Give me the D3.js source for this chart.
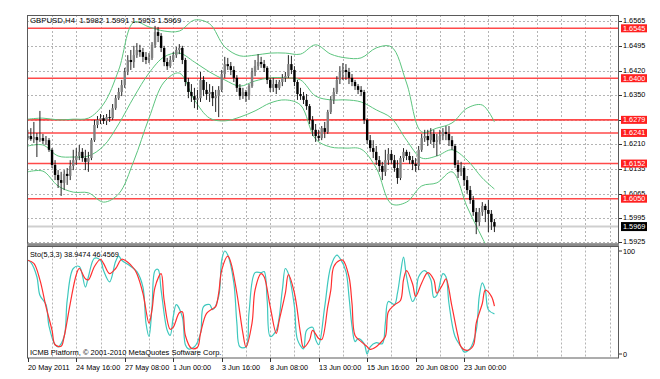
<!DOCTYPE html>
<html><head><meta charset="utf-8">
<script src="https://cdn.jsdelivr.net/npm/d3@7/dist/d3.min.js"></script>
<style>
html,body{margin:0;padding:0;background:#fff;}
svg{display:block;}
text{font-family:"Liberation Sans",Arial,sans-serif;}
</style>
</head><body>
<svg id="chart" width="660" height="379"></svg>
<script>
// ---------------- DATA ----------------
const titleText = "GBPUSD,H4  1.5982 1.5991 1.5953 1.5969";
const stochTitle = "Sto(5,3,3) 38.9474 46.4569";
const copyright = "ICMB Platform, \u00A9 2001-2010 MetaQuotes Software Corp.";

const timeLabels = ["20 May 2011","24 May 16:00","27 May 08:00","1 Jun 00:00","3 Jun 16:00","8 Jun 08:00","13 Jun 00:00","15 Jun 16:00","20 Jun 08:00","23 Jun 00:00"];
const barsPerLabel = 16;
const barsPerGrid = 8;
const visibleBars = 195;

const priceTicks = [1.6565,1.6495,1.6420,1.6350,1.6280,1.6210,1.6135,1.6065,1.5995,1.5925];
const levels = [1.6545,1.6400,1.6279,1.6241,1.6152,1.6050];
const lastPrice = 1.5969;

const open = [1.6226,1.6232,1.6223,1.6229,1.6220,1.6226,1.6218,1.6220,1.6192,1.6148,1.6119,1.6104,1.6096,1.6122,1.6116,1.6145,1.6162,1.6174,1.6186,1.6168,1.6157,1.6168,1.6220,1.6264,1.6279,1.6284,1.6276,1.6287,1.6284,1.6313,1.6342,1.6360,1.6380,1.6418,1.6453,1.6447,1.6467,1.6482,1.6476,1.6462,1.6453,1.6459,1.6497,1.6534,1.6523,1.6488,1.6447,1.6435,1.6453,1.6467,1.6482,1.6488,1.6453,1.6389,1.6360,1.6348,1.6337,1.6342,1.6395,1.6366,1.6354,1.6360,1.6342,1.6348,1.6366,1.6412,1.6441,1.6435,1.6424,1.6401,1.6372,1.6348,1.6360,1.6348,1.6377,1.6418,1.6435,1.6447,1.6441,1.6430,1.6395,1.6372,1.6383,1.6372,1.6389,1.6401,1.6406,1.6441,1.6424,1.6389,1.6354,1.6348,1.6337,1.6319,1.6279,1.6250,1.6232,1.6226,1.6255,1.6244,1.6302,1.6337,1.6360,1.6395,1.6418,1.6424,1.6418,1.6401,1.6389,1.6377,1.6366,1.6360,1.6279,1.6220,1.6197,1.6186,1.6162,1.6145,1.6128,1.6162,1.6180,1.6162,1.6139,1.6110,1.6168,1.6186,1.6174,1.6162,1.6151,1.6145,1.6192,1.6226,1.6232,1.6220,1.6238,1.6215,1.6220,1.6232,1.6244,1.6238,1.6220,1.6203,1.6148,1.6128,1.6139,1.6104,1.6075,1.6046,1.6011,1.5982,1.6011,1.6029,1.6017,1.6006,1.5982];
const high = [1.6250,1.6255,1.6273,1.6241,1.6305,1.6238,1.6232,1.6226,1.6197,1.6162,1.6133,1.6128,1.6133,1.6139,1.6162,1.6192,1.6197,1.6206,1.6197,1.6192,1.6186,1.6226,1.6279,1.6290,1.6296,1.6293,1.6296,1.6308,1.6325,1.6351,1.6372,1.6395,1.6430,1.6467,1.6482,1.6494,1.6502,1.6497,1.6488,1.6476,1.6473,1.6505,1.6552,1.6549,1.6531,1.6494,1.6459,1.6465,1.6476,1.6491,1.6499,1.6494,1.6459,1.6401,1.6383,1.6372,1.6366,1.6418,1.6406,1.6389,1.6383,1.6377,1.6366,1.6377,1.6424,1.6462,1.6459,1.6447,1.6435,1.6409,1.6383,1.6372,1.6366,1.6383,1.6430,1.6453,1.6470,1.6462,1.6453,1.6435,1.6401,1.6401,1.6395,1.6395,1.6412,1.6418,1.6467,1.6465,1.6435,1.6395,1.6372,1.6360,1.6354,1.6325,1.6290,1.6267,1.6250,1.6261,1.6273,1.6308,1.6348,1.6372,1.6406,1.6435,1.6444,1.6441,1.6430,1.6412,1.6395,1.6383,1.6377,1.6366,1.6284,1.6235,1.6220,1.6203,1.6174,1.6157,1.6192,1.6197,1.6192,1.6177,1.6162,1.6174,1.6197,1.6192,1.6186,1.6174,1.6168,1.6203,1.6238,1.6250,1.6250,1.6255,1.6250,1.6238,1.6250,1.6255,1.6261,1.6261,1.6232,1.6209,1.6162,1.6157,1.6145,1.6116,1.6087,1.6058,1.6023,1.6023,1.6040,1.6035,1.6046,1.6017,1.5991];
const low = [1.6220,1.6218,1.6212,1.6171,1.6215,1.6209,1.6206,1.6186,1.6139,1.6104,1.6081,1.6058,1.6075,1.6090,1.6104,1.6133,1.6148,1.6162,1.6157,1.6133,1.6128,1.6162,1.6215,1.6255,1.6267,1.6267,1.6264,1.6273,1.6279,1.6308,1.6337,1.6348,1.6372,1.6409,1.6424,1.6430,1.6459,1.6462,1.6447,1.6441,1.6444,1.6453,1.6488,1.6505,1.6476,1.6435,1.6424,1.6430,1.6447,1.6459,1.6470,1.6441,1.6377,1.6342,1.6331,1.6313,1.6308,1.6331,1.6348,1.6337,1.6331,1.6319,1.6302,1.6287,1.6360,1.6401,1.6424,1.6409,1.6389,1.6360,1.6337,1.6340,1.6331,1.6337,1.6372,1.6406,1.6424,1.6430,1.6418,1.6383,1.6360,1.6360,1.6354,1.6366,1.6377,1.6389,1.6401,1.6412,1.6377,1.6337,1.6337,1.6325,1.6308,1.6267,1.6232,1.6215,1.6218,1.6220,1.6226,1.6238,1.6296,1.6325,1.6354,1.6383,1.6395,1.6395,1.6383,1.6377,1.6366,1.6354,1.6348,1.6267,1.6209,1.6186,1.6168,1.6148,1.6128,1.6104,1.6116,1.6148,1.6151,1.6128,1.6093,1.6104,1.6157,1.6162,1.6151,1.6133,1.6128,1.6133,1.6186,1.6215,1.6203,1.6209,1.6197,1.6174,1.6209,1.6220,1.6220,1.6203,1.6192,1.6139,1.6110,1.6116,1.6087,1.6064,1.6035,1.6000,1.5947,1.5971,1.6000,1.5982,1.5953,1.5959,1.5953];
const close = [1.6232,1.6223,1.6229,1.6220,1.6226,1.6218,1.6220,1.6192,1.6148,1.6119,1.6104,1.6096,1.6122,1.6116,1.6145,1.6162,1.6174,1.6186,1.6168,1.6157,1.6168,1.6220,1.6264,1.6279,1.6284,1.6276,1.6287,1.6284,1.6313,1.6342,1.6360,1.6380,1.6418,1.6453,1.6447,1.6467,1.6482,1.6476,1.6462,1.6453,1.6459,1.6497,1.6534,1.6523,1.6488,1.6447,1.6435,1.6453,1.6467,1.6482,1.6488,1.6453,1.6389,1.6360,1.6348,1.6337,1.6342,1.6395,1.6366,1.6354,1.6360,1.6342,1.6348,1.6366,1.6412,1.6441,1.6435,1.6424,1.6401,1.6372,1.6348,1.6360,1.6348,1.6377,1.6418,1.6435,1.6447,1.6441,1.6430,1.6395,1.6372,1.6383,1.6372,1.6389,1.6401,1.6406,1.6441,1.6424,1.6389,1.6354,1.6348,1.6337,1.6319,1.6279,1.6250,1.6232,1.6226,1.6255,1.6244,1.6302,1.6337,1.6360,1.6395,1.6418,1.6424,1.6418,1.6401,1.6389,1.6377,1.6366,1.6360,1.6279,1.6220,1.6197,1.6186,1.6162,1.6145,1.6128,1.6162,1.6180,1.6162,1.6139,1.6110,1.6168,1.6186,1.6174,1.6162,1.6151,1.6145,1.6192,1.6226,1.6232,1.6220,1.6238,1.6215,1.6220,1.6232,1.6244,1.6238,1.6220,1.6203,1.6148,1.6128,1.6139,1.6104,1.6075,1.6046,1.6011,1.5982,1.6011,1.6029,1.6017,1.6006,1.5982,1.5969];

// Bollinger bands, read every 5 bars (plus last bar)
const bandBars = [0,5,10,15,20,25,30,35,40,45,50,55,60,65,70,75,80,85,90,95,100,105,110,115,120,125,130,135,140,145,150,154];
const bandUpper = [1.6281,1.6284,1.6279,1.6281,1.6284,1.6325,1.6424,1.6563,1.6549,1.6537,1.6537,1.6569,1.6558,1.6491,1.6465,1.6467,1.6473,1.6473,1.6470,1.6497,1.6470,1.6459,1.6459,1.6488,1.6491,1.6386,1.6244,1.6255,1.6270,1.6313,1.6322,1.6273];
const bandMiddle = [1.6203,1.6206,1.6174,1.6171,1.6174,1.6203,1.6267,1.6345,1.6415,1.6462,1.6473,1.6447,1.6418,1.6395,1.6377,1.6392,1.6401,1.6401,1.6395,1.6348,1.6337,1.6337,1.6331,1.6308,1.6284,1.6220,1.6168,1.6174,1.6192,1.6162,1.6110,1.6078];
const bandLower = [1.6128,1.6130,1.6087,1.6069,1.6067,1.6040,1.6064,1.6160,1.6284,1.6389,1.6415,1.6337,1.6284,1.6276,1.6287,1.6305,1.6328,1.6337,1.6322,1.6223,1.6200,1.6197,1.6194,1.6139,1.6035,1.6040,1.6087,1.6096,1.6128,1.6026,1.5936,1.5866];

// Stochastic %K (main) and %D (signal)
const stochKBars = [0,1,3,4,6,7,9,10,12,13,15,17,19,20,22,24,25,27,29,30,31,34,36,38,39,40,41,42,43,44,46,47,48,49,51,52,53,55,57,58,60,61,63,64,65,66,68,69,70,72,73,75,77,78,79,80,82,84,85,86,88,89,91,92,94,95,96,98,100,102,103,105,106,107,108,109,111,112,113,115,117,118,119,121,122,123,124,125,127,128,129,131,133,134,135,137,138,139,141,143,144,146,148,149,150,151,152,154];
const stochK = [91,89,75,57,48,27,9,7,17,52,83,85,65,75,93,91,81,70,90,95,91,85,80,65,30,17,46,81,82,62,23,18,36,48,36,9,5,7,20,46,48,43,56,91,100,96,69,30,7,7,40,79,79,80,52,17,23,62,83,78,46,14,5,23,26,14,9,46,85,96,93,80,56,27,12,15,10,0,7,11,10,30,51,48,59,78,94,75,51,56,75,81,72,55,57,78,75,49,17,7,2,5.5,23,56,69,62,43,38.9474];
const stochDBars = [0,2,4,6,8,9,11,12,14,16,17,19,20,22,24,25,27,29,31,33,35,36,38,40,41,42,44,45,47,48,50,51,52,54,56,57,59,61,62,63,64,66,67,69,71,72,74,75,77,78,80,82,83,85,86,88,90,91,93,94,96,97,99,100,101,103,104,106,107,108,110,112,113,115,116,118,119,121,123,124,125,127,128,130,132,134,135,137,138,140,142,143,145,147,148,150,151,153,154];
const stochD = [91,88,72,46,23,9,7.6,17,49,77,83,73,72,85,92,88,78,83,92,89,83,78,59,30,43,65,78,52,24,26,40,41,18,5.5,6.5,20,39.5,44,46,59,81.5,95,89,59,20,7,30,62,78,75,46,20,33,59,77,59,20,6.5,13.6,23,15,14,46,62,85,91,91,75,49,18,12,7,4.5,7,9.7,17,41,47.6,52,72,81,68,56,69,79,72,59,68,73,46,17,7,3.5,8,30,49,62,56,46.4569];

// ---------------- DRAW ----------------
const svg = d3.select("#chart");
const L = 27, R = 619, mTop = 15, mBot = 243.5, sTop = 246.5, sBot = 358;
const font = 7.3;

const x = d3.scaleLinear().domain([0, visibleBars]).range([27.8, 618.65]);
const y = d3.scaleLinear().domain([1.5925, 1.6545]).range([241.7, 28.3]);
const ys = d3.scaleLinear().domain([0, 100]).range([354, 251]);

svg.append("rect").attr("x",0).attr("y",0).attr("width",660).attr("height",379).attr("fill","#fff");

const defs = svg.append("defs");
defs.append("clipPath").attr("id","clipMain").append("rect")
  .attr("x",L).attr("y",mTop).attr("width",R-L).attr("height",mBot-mTop);
defs.append("clipPath").attr("id","clipSto").append("rect")
  .attr("x",L).attr("y",sTop).attr("width",R-L).attr("height",sBot-sTop);

const gridColor = "#b4b4b4";
// vertical grid
const gridBars = d3.range(barsPerGrid, visibleBars + 1, barsPerGrid);
const vg = svg.append("g").attr("stroke",gridColor).attr("stroke-width",1).attr("stroke-dasharray","2,2");
gridBars.forEach(b => {
  const xx = Math.round(x(b)) + 0.5;
  vg.append("line").attr("x1",xx).attr("x2",xx).attr("y1",mTop).attr("y2",mBot);
  vg.append("line").attr("x1",xx).attr("x2",xx).attr("y1",sTop).attr("y2",sBot);
});
// horizontal grid
const hg = svg.append("g").attr("stroke",gridColor).attr("stroke-width",1).attr("stroke-dasharray","2,2");
priceTicks.forEach(p => {
  const yy = Math.round(y(p)) + 0.5;
  hg.append("line").attr("x1",L).attr("x2",R).attr("y1",yy).attr("y2",yy);
});

// current price line
svg.append("line").attr("x1",L).attr("x2",R).attr("y1",y(lastPrice)).attr("y2",y(lastPrice))
  .attr("stroke","#cfcfcf").attr("stroke-width",2);

// level lines
const lv = svg.append("g").attr("stroke","#ff4a4a").attr("stroke-width",1.6);
levels.forEach(p => {
  lv.append("line").attr("x1",L).attr("x2",R).attr("y1",y(p)).attr("y2",y(p));
});

// bands
const gMain = svg.append("g").attr("clip-path","url(#clipMain)");
const bandLine = d3.line().x((d,i)=>x(bandBars[i])).y(d=>y(d)).curve(d3.curveCatmullRom.alpha(0.5));
[bandUpper, bandMiddle, bandLower].forEach(arr => {
  gMain.append("path").attr("d", bandLine(arr)).attr("fill","none")
    .attr("stroke","#5cc47e").attr("stroke-width",1);
});

// candles
const bars = d3.range(close.length);
const cg = gMain.append("g");
bars.forEach(i => {
  const cx = x(i);
  cg.append("line").attr("x1",cx).attr("x2",cx).attr("y1",y(high[i])).attr("y2",y(low[i]))
    .attr("stroke","#222").attr("stroke-width",1);
  const top = y(Math.max(open[i],close[i])), bot = y(Math.min(open[i],close[i]));
  const bull = close[i] >= open[i];
  cg.append("rect").attr("x",cx-1.2).attr("width",2.4).attr("y",top).attr("height",Math.max(1,bot-top))
    .attr("fill", bull ? "#808080" : "#000");
});

// stochastic
const gSto = svg.append("g").attr("clip-path","url(#clipSto)");
const kLine = d3.line().x((d,i)=>x(stochKBars[i])).y(d=>ys(d)).curve(d3.curveCatmullRom.alpha(0.5));
const dLine = d3.line().x((d,i)=>x(stochDBars[i])).y(d=>ys(d)).curve(d3.curveCatmullRom.alpha(0.5));
gSto.append("path").attr("d",kLine(stochK)).attr("fill","none").attr("stroke","#3ec8be").attr("stroke-width",1.2);
gSto.append("path").attr("d",dLine(stochD)).attr("fill","none").attr("stroke","#ff3030").attr("stroke-width",1.2);

// frames
svg.append("rect").attr("x",L+0.5).attr("y",mTop+0.5).attr("width",R-L-1).attr("height",mBot-mTop)
  .attr("fill","none").attr("stroke","#5a5a5a").attr("stroke-width",1);
svg.append("rect").attr("x",L).attr("y",mBot).attr("width",R-L).attr("height",sTop-mBot).attr("fill","#8a8a8a");
svg.append("rect").attr("x",L+0.5).attr("y",sTop).attr("width",R-L-1).attr("height",sBot-sTop)
  .attr("fill","none").attr("stroke","#5a5a5a").attr("stroke-width",1);

// right price axis
const ax = svg.append("g");
priceTicks.forEach(p => {
  const yy = Math.round(y(p)) + 0.5;
  ax.append("line").attr("x1",R).attr("x2",R+3).attr("y1",yy).attr("y2",yy).attr("stroke","#333");
  ax.append("text").attr("x",R+4).attr("y",yy-1).attr("dy","0.35em").attr("font-size",font)
    .attr("fill","#000").text(p.toFixed(4));
});
levels.forEach(p => {
  const yy = y(p);
  ax.append("rect").attr("x",R+2).attr("y",yy-4).attr("width",26).attr("height",8).attr("fill","#ff2020");
  ax.append("text").attr("x",R+4).attr("y",yy).attr("dy","0.35em").attr("font-size",font)
    .attr("fill","#fff").text(p.toFixed(4));
});
{
  const yy = y(lastPrice);
  ax.append("rect").attr("x",R+2).attr("y",yy-4.5).attr("width",26).attr("height",9).attr("fill","#000");
  ax.append("text").attr("x",R+4).attr("y",yy).attr("dy","0.35em").attr("font-size",font)
    .attr("fill","#fff").text(lastPrice.toFixed(4));
}
// stochastic axis
[100, 0].forEach(v => {
  const yy = ys(v);
  ax.append("line").attr("x1",R).attr("x2",R+3).attr("y1",yy).attr("y2",yy).attr("stroke","#333");
  ax.append("text").attr("x",R+4).attr("y",yy).attr("dy","0.35em").attr("font-size",font).text(v);
});

// time axis
timeLabels.forEach((t,k) => {
  const xx = Math.round(x(k*barsPerLabel)) + 0.5;
  svg.append("line").attr("x1",xx).attr("x2",xx).attr("y1",sBot).attr("y2",sBot+4).attr("stroke","#333");
  svg.append("text").attr("x",xx-0.5).attr("y",369.5).attr("font-size",font).text(t);
});

// texts
svg.append("text").attr("x",30).attr("y",23.3).attr("font-size",7.8).attr("xml:space","preserve").text(titleText);
svg.append("text").attr("x",30).attr("y",256.8).attr("font-size",font).text(stochTitle);
svg.append("text").attr("x",30).attr("y",355).attr("font-size",7.5).text(copyright);
</script>
</body></html>
